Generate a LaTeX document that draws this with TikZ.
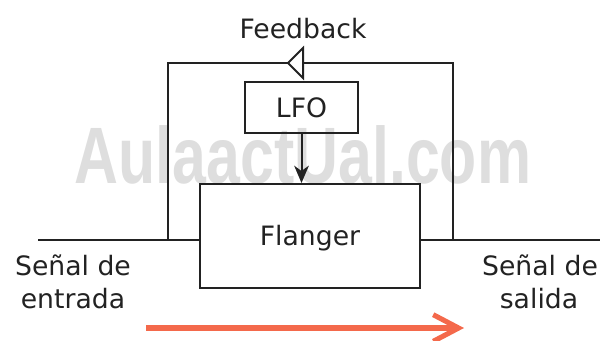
\documentclass[tikz,border=0pt]{standalone}
\usepackage{fontspec}
\setmainfont{DejaVu Sans}
\newfontfamily\markfont{Liberation Sans}
\usetikzlibrary{arrows.meta}
\definecolor{ink}{HTML}{222222}
\definecolor{signal}{HTML}{F4694B}
\definecolor{wmark}{HTML}{DEDEDE}
\tikzset{
  lbl/.style={text=ink, font=\fontsize{20}{25.5}\selectfont, inner sep=0pt},
  block/.style={draw=ink, line width=1.5pt, inner sep=0pt, lbl},
  wire/.style={draw=ink, line width=1.5pt},
}
\begin{document}
\begin{tikzpicture}[x=0.75pt, y=-0.75pt]
  \useasboundingbox (0,0) rectangle (602,340);

  % watermark behind the diagram
  \node[text=wmark, font=\markfont\bfseries\fontsize{60}{62}\selectfont,
        xscale=0.76, anchor=base, inner sep=0pt] (mark) at (303,183) {AulaactUal.com};

  % blocks
  \node[block, minimum width=84.75pt, minimum height=38.25pt] (lfo) at (301.5,107.5) {LFO};
  \node[block, minimum width=165pt, minimum height=78pt] (fl) at (310,236) {};
  \node[lbl] (fltxt) at (310,238) {Flanger};

  % signal path
  \coordinate (inL) at (38,240);
  \coordinate (outR) at (600,240);
  \draw[wire] (inL) -- (inL -| fl.west);
  \draw[wire] (outR -| fl.east) -- (outR);

  % feedback loop
  \coordinate (fbL) at (168,240);
  \coordinate (fbTL) at (168,63);
  \coordinate (fbTR) at (453,63);
  \coordinate (fbR) at (453,240);
  \draw[wire] (fbL) -- (fbTL) -- (fbTR) -- (fbR);
  \draw[wire, fill=white, line join=miter] (288,63) -- (303,48) -- (303,78) -- cycle;
  \node[lbl, anchor=base] (fbtxt) at (303,38) {Feedback};

  % modulation
  \draw[wire, -{Stealth[length=13pt, width=11pt, inset=4pt]}] (lfo.south) -- (lfo.south |- fl.north);

  % labels
  \node[lbl, anchor=base] (in1) at (73,275) {Señal de};
  \node[lbl, anchor=base] (in2) at (73,308) {entrada};
  \node[lbl, anchor=base] (out1) at (540,275) {Señal de};
  \node[lbl, anchor=base] (out2) at (539,308) {salida};

  % direction of flow
  \coordinate (flowA) at (146,328);
  \coordinate (flowB) at (464,328);
  \draw[signal, line width=3.8pt,
        -{Straight Barb[length=19pt, width=20pt, line width=3.8pt]}] (flowA) -- (flowB);
\end{tikzpicture}
\end{document}
